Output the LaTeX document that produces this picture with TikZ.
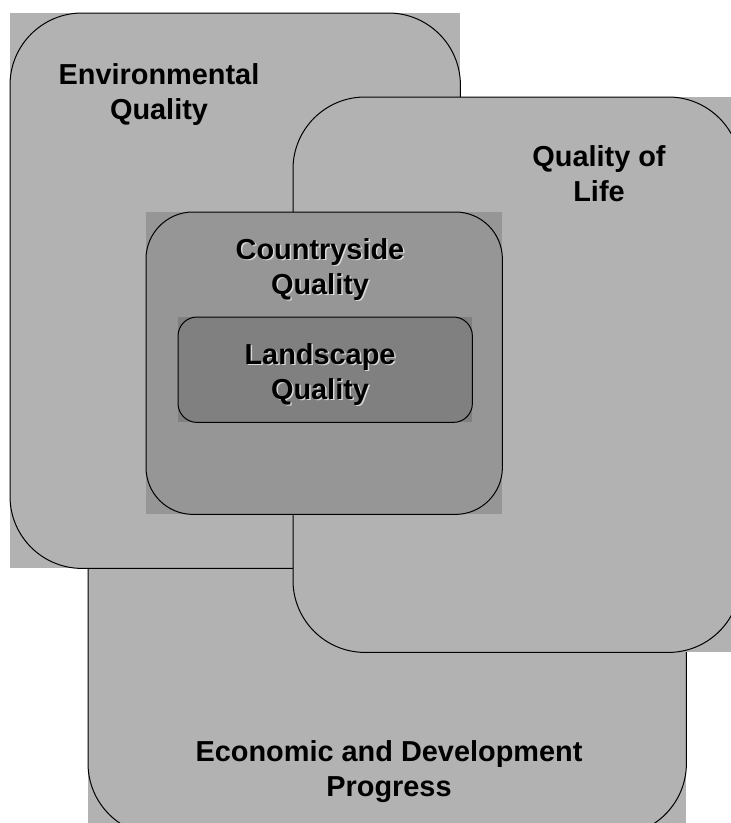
\documentclass[tikz,border=0pt]{standalone}
\usepackage{fontspec}
\setmainfont{Liberation Sans}
\usetikzlibrary{positioning}
\definecolor{outergray}{HTML}{B2B2B2}
\definecolor{midgray}{HTML}{969696}
\definecolor{innergray}{HTML}{808080}
\definecolor{shadegray}{HTML}{D8D8D8}
\begin{document}
\begin{tikzpicture}[x=1bp,y=-1bp,
    boxfill/.style={rectangle, fill=#1, draw=none, inner sep=0, anchor=north west},
    boxline/.style={line width=1bp, rounded corners=#1},
    lbl/.style={align=center, anchor=north, inner sep=0,
      font=\bfseries\fontsize{29}{35}\selectfont},
    shade/.style={lbl, text=shadegray}]
  \useasboundingbox (0,0) rectangle (731,823);

  % Economic box
  \node[boxfill=outergray, minimum width=598bp, minimum height=535bp] (econ) at (88,300) {};
  \draw[boxline=72bp] (econ.south west) rectangle (econ.north east);
  \node[lbl] (econtxt) at (389,740) {Economic and Development\\Progress};

  % Environmental box
  \node[boxfill=outergray, minimum width=450bp, minimum height=555bp] (env) at (10,13) {};
  \draw[boxline=72bp] (env.south west) rectangle (env.north east);
  \node[lbl] (envtxt) at (159,63) {Environmental\\Quality};

  % Quality of life box
  \node[boxfill=outergray, minimum width=447bp, minimum height=555bp] (qol) at (293,97) {};
  \draw[boxline=72bp] (qol.south west) rectangle (qol.north east);
  \node[lbl] (qoltxt) at (599,145) {Quality of\\Life};

  % Countryside box
  \node[boxfill=midgray, minimum width=356bp, minimum height=302bp] (cq) at (146,212) {};
  \draw[boxline=47bp] (cq.south west) rectangle (cq.north east);
  \node[shade] (cqshade) at (321.5,239.5) {Countryside\\Quality};
  \node[lbl] (cqtxt) at (320,238) {Countryside\\Quality};

  % Landscape box
  \node[boxfill=innergray, minimum width=294bp, minimum height=105bp] (lq) at (178,317) {};
  \draw[boxline=19bp] (lq.south west) rectangle (lq.north east);
  \node[shade] (lqshade) at (321.5,344.5) {Landscape\\Quality};
  \node[lbl] (lqtxt) at (320,343) {Landscape\\Quality};
\end{tikzpicture}
\end{document}
